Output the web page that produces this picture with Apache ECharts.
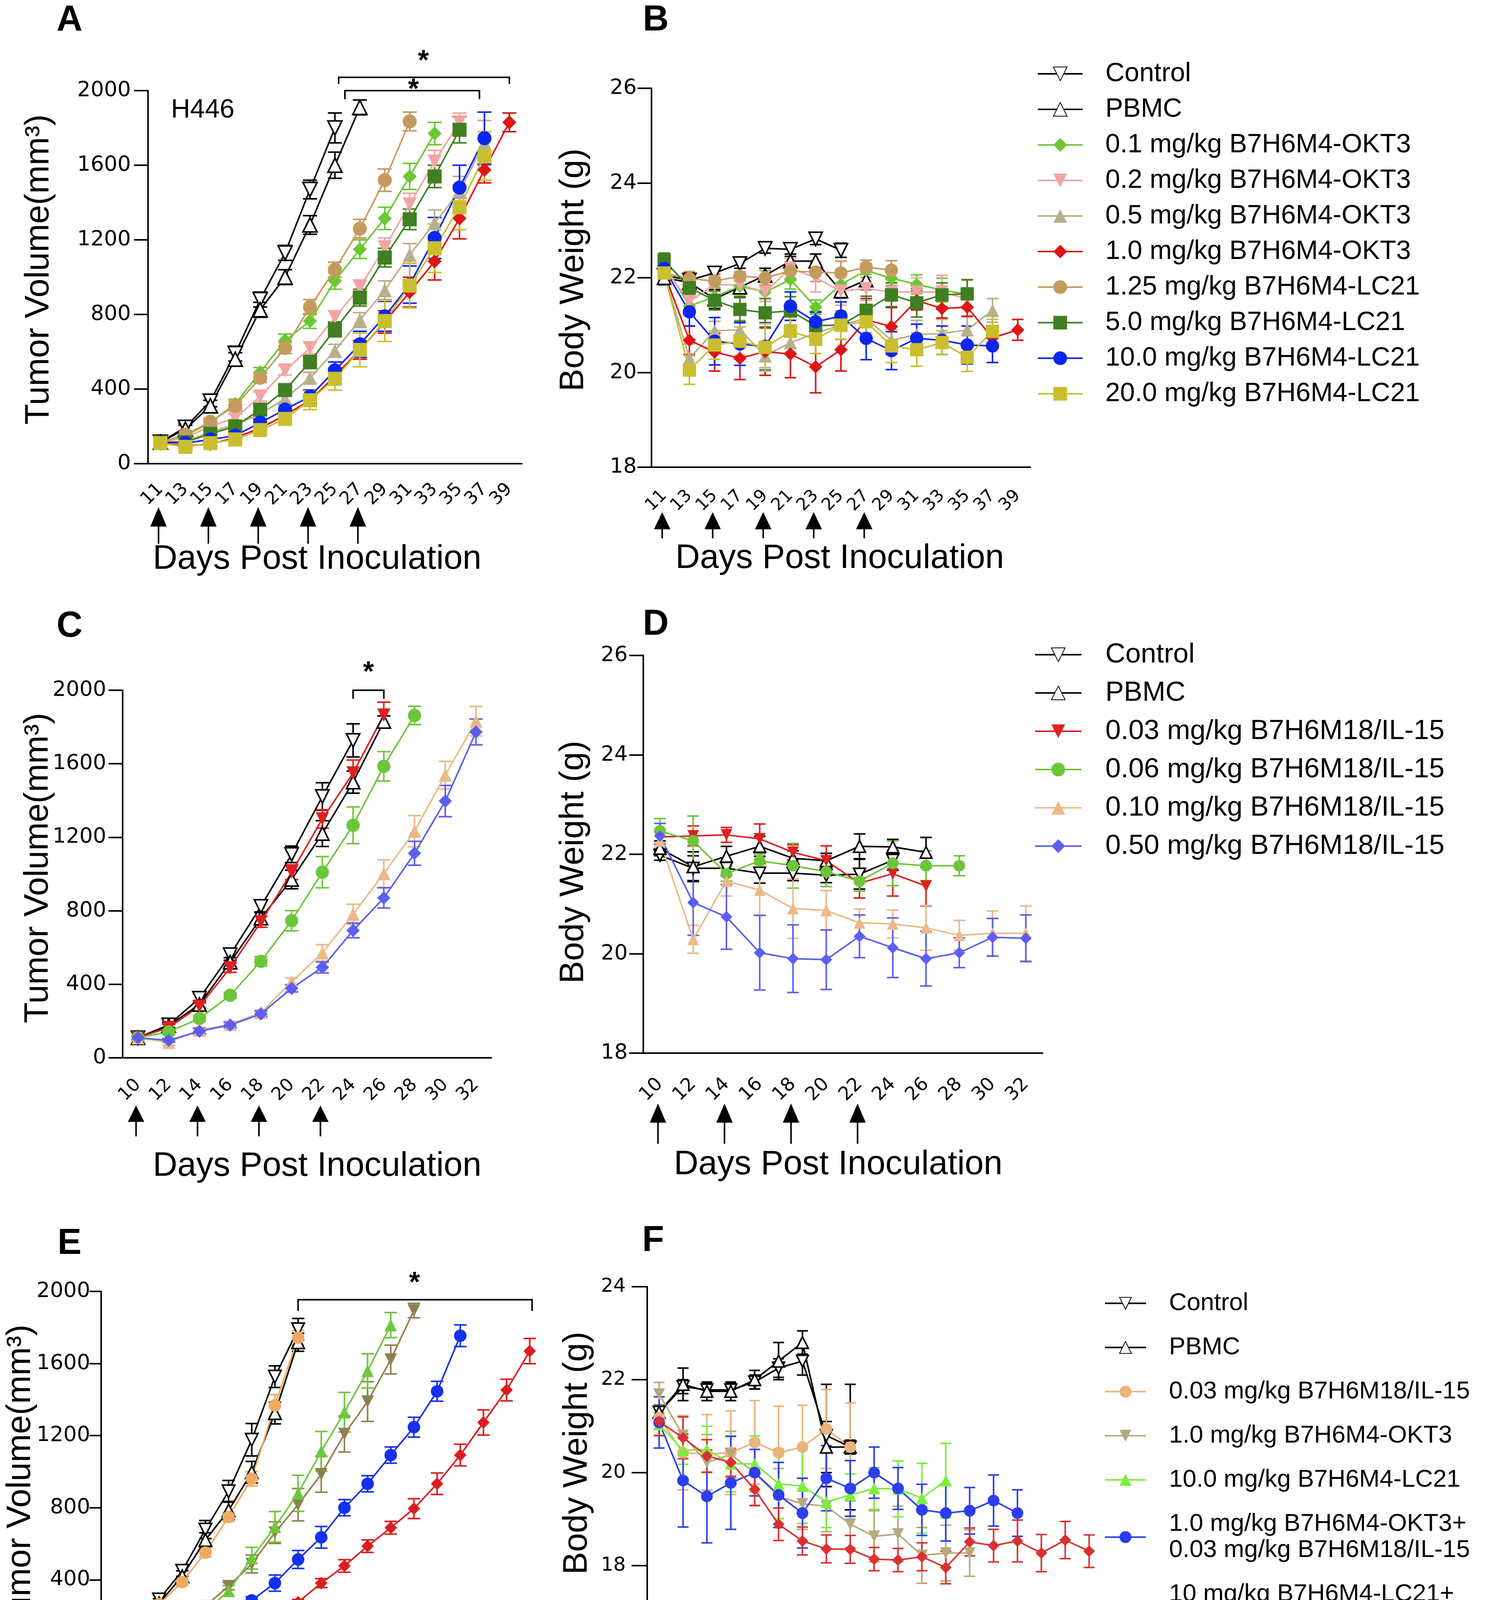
<!DOCTYPE html>
<html>
<head>
<meta charset="utf-8">
<title>Tumor volume and body weight</title>
<script src="https://cdn.jsdelivr.net/npm/echarts@6/dist/echarts.min.js"></script>
<style>
html, body { margin: 0; padding: 0; background: #fff; }
#chart { width: 3802px; height: 4584px; }
</style>
</head>
<body>
<div id="chart"></div>
<script>
// ---- x categories (days) and dosing days
var daysAB = [11, 13, 15, 17, 19, 21, 23, 25, 27, 29, 31, 33, 35, 37, 39];
var daysCD = [10, 12, 14, 16, 18, 20, 22, 24, 26, 28, 30, 32];
var daysEF = [8, 10, 12, 14, 16, 18, 20, 22, 24, 26, 28, 30, 32, 34, 36, 38, 40, 42, 44];
var doseAB = [11, 15, 19, 23, 27];
var doseCD = [10, 14, 18, 22];
var doseEF = [8, 12, 16, 20];

// ---- panel A: tumor volume (mm3), mean and SEM
var volA_control = [115, 195, 335, 590, 880, 1130, 1470, 1800];
var semA_control = [15, 20, 30, 40, 40, 40, 50, 80];
var volA_pbmc = [115, 185, 310, 560, 825, 1000, 1280, 1600, 1910];
var semA_pbmc = [15, 20, 30, 35, 40, 40, 50, 70, 40];
var volA_okt01 = [115, 150, 220, 320, 490, 660, 765, 980, 1150, 1315, 1540, 1770];
var semA_okt01 = [10, 15, 20, 25, 25, 35, 40, 45, 50, 60, 70, 60];
var volA_okt02 = [115, 140, 200, 245, 360, 500, 620, 785, 945, 1160, 1390, 1620, 1830];
var semA_okt02 = [10, 15, 20, 20, 25, 25, 30, 35, 40, 50, 60, 60, 50];
var volA_okt05 = [115, 120, 170, 210, 265, 350, 460, 605, 770, 930, 1120, 1290, 1460, 1720];
var semA_okt05 = [10, 15, 15, 20, 25, 30, 30, 35, 40, 50, 60, 70, 80, 120];
var volA_okt10 = [110, 95, 105, 140, 190, 260, 340, 470, 610, 760, 920, 1085, 1315, 1575, 1830];
var semA_okt10 = [10, 10, 15, 15, 20, 25, 30, 40, 50, 60, 80, 100, 110, 70, 50];
var volA_lc125 = [115, 155, 225, 310, 460, 620, 840, 1040, 1260, 1520, 1835];
var semA_lc125 = [10, 15, 20, 25, 25, 30, 40, 40, 50, 60, 50];
var volA_lc5 = [115, 115, 160, 200, 290, 395, 545, 720, 890, 1105, 1310, 1540, 1790];
var semA_lc5 = [10, 15, 20, 25, 30, 30, 35, 40, 45, 50, 55, 60, 70];
var volA_lc10 = [115, 110, 130, 150, 220, 290, 360, 500, 640, 790, 960, 1210, 1480, 1745];
var semA_lc10 = [10, 10, 15, 15, 20, 25, 35, 45, 70, 80, 100, 110, 120, 140];
var volA_lc20 = [110, 90, 110, 130, 180, 240, 340, 455, 610, 765, 955, 1155, 1375, 1650];
var semA_lc20 = [10, 10, 15, 15, 20, 30, 50, 60, 90, 110, 120, 130, 120, 130];

// ---- panel B: body weight (g)
var wB_control = [22.05, 21.95, 22.1, 22.3, 22.62, 22.6, 22.82, 22.58];
var semB_control = [0.1, 0.15, 0.1, 0.1, 0.1, 0.1, 0.12, 0.15];
var wB_pbmc = [22.0, 21.9, 21.55, 21.8, 22.05, 22.35, 22.35, 21.72, 21.95];
var semB_pbmc = [0.15, 0.2, 0.2, 0.2, 0.15, 0.1, 0.15, 0.15, 0.2];
var wB_okt01 = [22.3, 21.4, 21.6, 21.82, 21.7, 21.96, 21.38, 21.86, 22.15, 21.99, 21.86, 21.74, 21.65];
var semB_okt01 = [0.2, 0.2, 0.2, 0.2, 0.2, 0.2, 0.15, 0.2, 0.15, 0.15, 0.2, 0.25, 0.3];
var wB_okt02 = [22.2, 21.5, 21.85, 21.85, 21.7, 22.2, 22.0, 21.72, 21.77, 21.7, 21.7, 21.7, 21.55];
var semB_okt02 = [0.15, 0.15, 0.2, 0.2, 0.2, 0.2, 0.3, 0.3, 0.25, 0.2, 0.3, 0.35, 0.2];
var wB_okt05 = [22.1, 20.3, 20.88, 20.9, 20.35, 20.63, 20.83, 21.0, 21.14, 20.68, 20.8, 20.82, 20.9, 21.31];
var semB_okt05 = [0.1, 0.3, 0.2, 0.2, 0.25, 0.2, 0.2, 0.3, 0.3, 0.3, 0.3, 0.3, 0.3, 0.25];
var wB_okt10 = [22.1, 20.68, 20.43, 20.3, 20.44, 20.39, 20.12, 20.48, 21.11, 20.97, 21.52, 21.35, 21.38, 20.73, 20.9];
var semB_okt10 = [0.1, 0.3, 0.4, 0.45, 0.5, 0.5, 0.55, 0.45, 0.45, 0.4, 0.2, 0.2, 0.2, 0.1, 0.22];
var wB_lc125 = [22.1, 21.98, 21.93, 22.03, 22.0, 22.14, 22.12, 22.1, 22.22, 22.16];
var semB_lc125 = [0.1, 0.15, 0.15, 0.1, 0.15, 0.2, 0.2, 0.25, 0.15, 0.2];
var wB_lc5 = [22.37, 21.79, 21.52, 21.33, 21.26, 21.3, 20.99, 21.0, 21.31, 21.64, 21.47, 21.64, 21.66];
var semB_lc5 = [0.15, 0.15, 0.2, 0.25, 0.3, 0.3, 0.3, 0.3, 0.3, 0.25, 0.3, 0.25, 0.3];
var wB_lc10 = [22.2, 21.28, 20.66, 20.6, 20.55, 21.4, 21.07, 21.19, 20.72, 20.46, 20.72, 20.68, 20.58, 20.56];
var semB_lc10 = [0.15, 0.3, 0.5, 0.45, 0.5, 0.3, 0.2, 0.3, 0.45, 0.4, 0.3, 0.3, 0.4, 0.35];
var wB_lc20 = [22.1, 20.05, 20.58, 20.66, 20.53, 20.87, 20.7, 21.0, 21.07, 20.56, 20.48, 20.63, 20.32, 20.87];
var semB_lc20 = [0.15, 0.3, 0.3, 0.3, 0.5, 0.35, 0.3, 0.3, 0.35, 0.35, 0.35, 0.25, 0.3, 0.25];

// ---- panel C: tumor volume (mm3)
var vC_control = [109, 179, 324, 561, 824, 1107, 1422, 1727];
var semC_control = [10, 15, 25, 30, 30, 45, 75, 90];
var vC_pbmc = [109, 175, 290, 520, 760, 970, 1220, 1500, 1830];
var semC_pbmc = [10, 15, 20, 25, 30, 50, 70, 60, 30];
var vC_il003 = [109, 165, 280, 490, 740, 1010, 1300, 1550, 1865];
var semC_il003 = [10, 15, 20, 25, 30, 40, 50, 70, 70];
var vC_il006 = [109, 141, 214, 340, 525, 746, 1010, 1265, 1586, 1863];
var semC_il006 = [10, 15, 15, 15, 25, 55, 85, 100, 80, 50];
var vC_il010 = [109, 84, 151, 183, 246, 414, 571, 781, 1002, 1233, 1538, 1832];
var semC_il010 = [10, 15, 15, 15, 15, 20, 45, 55, 75, 85, 75, 80];
var vC_il050 = [109, 95, 145, 178, 239, 378, 492, 693, 870, 1113, 1397, 1773];
var semC_il050 = [10, 10, 15, 15, 15, 20, 30, 40, 55, 65, 85, 70];

// ---- panel D: body weight (g)
var wD_control = [21.98, 21.72, 21.72, 21.62, 21.62, 21.58, 21.6, 21.88];
var semD_control = [0.1, 0.25, 0.15, 0.2, 0.15, 0.15, 0.3, 0.2];
var wD_pbmc = [22.12, 21.75, 21.96, 22.16, 21.92, 21.87, 22.16, 22.15, 22.04];
var semD_pbmc = [0.15, 0.3, 0.2, 0.2, 0.15, 0.15, 0.25, 0.15, 0.3];
var wD_il003 = [22.35, 22.37, 22.39, 22.31, 22.04, 21.87, 21.42, 21.61, 21.36];
var semD_il003 = [0.15, 0.2, 0.15, 0.3, 0.15, 0.3, 0.3, 0.45, 0.4];
var wD_il006 = [22.47, 22.27, 21.61, 21.87, 21.77, 21.65, 21.46, 21.82, 21.77, 21.77];
var semD_il006 = [0.25, 0.5, 0.15, 0.15, 0.45, 0.3, 0.2, 0.45, 0.3, 0.2];
var wD_il010 = [22.27, 20.29, 21.46, 21.28, 20.91, 20.87, 20.62, 20.6, 20.52, 20.37, 20.41, 20.41];
var semD_il010 = [0.2, 0.28, 0.3, 0.5, 0.6, 0.4, 0.28, 0.28, 0.45, 0.3, 0.45, 0.55];
var wD_il050 = [22.37, 21.03, 20.74, 20.02, 19.9, 19.88, 20.35, 20.12, 19.9, 20.02, 20.33, 20.31];
var semD_il050 = [0.25, 0.66, 0.65, 0.75, 0.68, 0.6, 0.43, 0.6, 0.55, 0.3, 0.38, 0.47];

// ---- panel E: tumor volume (mm3)
var vE_control = [120, 180, 291, 450, 679, 891, 1177, 1527, 1790];
var semE_control = [15, 20, 25, 30, 50, 60, 90, 60, 60];
var vE_pbmc = [115, 175, 270, 420, 621, 785, 997, 1325, 1718];
var semE_pbmc = [15, 20, 25, 30, 40, 50, 60, 60, 50];
var vE_il003 = [115, 170, 265, 388, 551, 749, 961, 1368, 1743];
var semE_il003 = [15, 15, 20, 20, 25, 25, 40, 60, 40];
var vE_okt10 = [115, 100, 120, 170, 254, 365, 488, 662, 817, 986, 1209, 1389, 1622, 1894];
var semE_okt10 = [15, 10, 10, 15, 20, 20, 50, 60, 90, 100, 100, 110, 80, 40];
var vE_lc10 = [115, 100, 130, 150, 223, 339, 520, 694, 880, 1113, 1330, 1559, 1813];
var semE_lc10 = [15, 10, 10, 15, 20, 30, 60, 85, 100, 110, 110, 95, 70];
var vE_comboOkt = [115, 106, 117, 134, 176, 206, 286, 382, 513, 636, 800, 933, 1092, 1247, 1446, 1754];
var semE_comboOkt = [10, 10, 10, 15, 15, 15, 20, 45, 50, 60, 45, 45, 45, 55, 55, 60];
var vE_comboLc = [115, 106, 89, 89, 106, 138, 191, 216, 276, 382, 477, 587, 689, 795, 933, 1092, 1273, 1453, 1669];
var semE_comboLc = [10, 10, 10, 10, 10, 15, 15, 15, 15, 25, 35, 35, 35, 55, 60, 60, 70, 60, 70];

// ---- panel F: body weight (g)
var wF_control = [21.3, 21.85, 21.78, 21.78, 21.95, 22.25, 22.4, 20.8, 20.55];
var semF_control = [0.15, 0.15, 0.15, 0.15, 0.15, 0.2, 0.3, 1.1, 1.35];
var wF_pbmc = [21.3, 21.9, 21.75, 21.75, 22.0, 22.4, 22.8, 20.55, 20.55];
var semF_pbmc = [0.15, 0.35, 0.2, 0.2, 0.2, 0.4, 0.25, 0.55, 0.15];
var wF_il003 = [21.18, 20.43, 20.4, 20.43, 20.65, 20.43, 20.55, 20.94, 20.55];
var semF_il003 = [0.25, 0.8, 0.85, 0.9, 0.9, 1.0, 0.9, 0.85, 0.95];
var wF_okt10 = [21.69, 20.8, 20.22, 20.39, 20.0, 19.49, 19.33, 19.28, 18.89, 18.63, 18.68, 18.22, 18.27, 18.27];
var semF_okt10 = [0.25, 0.4, 0.6, 0.5, 0.7, 0.6, 0.55, 0.55, 0.5, 0.55, 0.6, 0.6, 0.6, 0.5];
var wF_lc10 = [21.04, 20.48, 20.5, 20.19, 20.19, 19.76, 19.71, 19.37, 19.52, 19.66, 19.65, 19.45, 19.83];
var semF_lc10 = [0.25, 0.3, 0.5, 0.6, 0.6, 0.75, 0.8, 0.55, 0.45, 0.45, 0.6, 0.75, 0.8];
var wF_comboOkt = [21.08, 19.83, 19.49, 19.78, 20.0, 19.52, 19.13, 19.88, 19.66, 20.0, 19.66, 19.2, 19.13, 19.18, 19.4, 19.13];
var semF_comboOkt = [0.55, 1.0, 1.0, 1.0, 0.5, 0.7, 0.75, 0.7, 0.6, 0.55, 0.45, 0.55, 0.6, 0.5, 0.55, 0.5];
var wF_comboLc = [21.1, 20.75, 20.36, 20.22, 19.64, 18.89, 18.53, 18.36, 18.35, 18.14, 18.12, 18.19, 17.96, 18.51, 18.43, 18.53, 18.27, 18.55, 18.31];
var semF_comboLc = [0.3, 0.45, 0.35, 0.3, 0.35, 0.35, 0.3, 0.3, 0.3, 0.25, 0.25, 0.3, 0.35, 0.3, 0.35, 0.45, 0.4, 0.4, 0.35];

// ---- group labels
var labAB = ['Control', 'PBMC', '0.1 mg/kg B7H6M4-OKT3', '0.2 mg/kg B7H6M4-OKT3', '0.5 mg/kg B7H6M4-OKT3',
  '1.0 mg/kg B7H6M4-OKT3', '1.25 mg/kg B7H6M4-LC21', '5.0 mg/kg B7H6M4-LC21', '10.0 mg/kg B7H6M4-LC21',
  '20.0 mg/kg B7H6M4-LC21'];
var labCD = ['Control', 'PBMC', '0.03 mg/kg B7H6M18/IL-15', '0.06 mg/kg B7H6M18/IL-15',
  '0.10 mg/kg B7H6M18/IL-15', '0.50 mg/kg B7H6M18/IL-15'];
var labEF = ['Control', 'PBMC', '0.03 mg/kg B7H6M18/IL-15', '1.0 mg/kg B7H6M4-OKT3', '10.0 mg/kg B7H6M4-LC21',
  '1.0 mg/kg B7H6M4-OKT3+\n0.03 mg/kg B7H6M18/IL-15', '10 mg/kg B7H6M4-LC21+\n0.03 mg/kg B7H6M18/IL-15'];

var FONT = "'Liberation Sans', Arial, Helvetica, sans-serif";
var TICKFONT = "'DejaVu Sans', 'Liberation Sans', sans-serif";

// marker styles, in label order
var styAB = [
  {c: '#000000', s: 'triangle', r: 180, open: true},
  {c: '#000000', s: 'triangle', r: 0, open: true},
  {c: '#6cc832', s: 'diamond'},
  {c: '#f2a4a4', s: 'triangle', r: 180},
  {c: '#b9af8d', s: 'triangle'},
  {c: '#e01414', s: 'diamond'},
  {c: '#c49b5f', s: 'circle'},
  {c: '#417f22', s: 'rect'},
  {c: '#0b26f2', s: 'circle'},
  {c: '#c9bf2e', s: 'rect'}
];
var styCD = [
  {c: '#000000', s: 'triangle', r: 180, open: true},
  {c: '#000000', s: 'triangle', r: 0, open: true},
  {c: '#de2020', s: 'triangle', r: 180},
  {c: '#6cc63a', s: 'circle'},
  {c: '#eab98a', s: 'triangle'},
  {c: '#5c5ef2', s: 'diamond'}
];
var styE = [
  {c: '#000000', s: 'triangle', r: 180, open: true},
  {c: '#000000', s: 'triangle', r: 0, open: true},
  {c: '#efaa62', s: 'circle'},
  {c: '#8f8050', s: 'triangle', r: 180},
  {c: '#6cc83c', s: 'triangle'},
  {c: '#1530f0', s: 'circle'},
  {c: '#dd1c1c', s: 'diamond'}
];
var styF = [
  {c: '#000000', s: 'triangle', r: 180, open: true},
  {c: '#000000', s: 'triangle', r: 0, open: true},
  {c: '#ebb27a', s: 'circle'},
  {c: '#b5aa7c', s: 'triangle', r: 180},
  {c: '#7cee3c', s: 'triangle'},
  {c: '#2b3ef0', s: 'circle'},
  {c: '#dc3030', s: 'diamond'}
];

// arrow: [offset below axis, total length, head height]
// ax: [x label font, x label margin, y label font, y label margin, y tick length, x tick length]
var panels = [
  {id: 'A', grid: {left: 379, top: 232, width: 957, height: 955}, days: daysAB, doses: doseAB, yMin: 0, yMax: 2000, yStep: 400,
    arrow: [111, 94, 50], ax: [46, 58, 54, 44, 36, 28], size: 36, cap: 36, labels: labAB, sty: styAB,
    vals: [volA_control, volA_pbmc, volA_okt01, volA_okt02, volA_okt05, volA_okt10, volA_lc125, volA_lc5, volA_lc10, volA_lc20],
    sems: [semA_control, semA_pbmc, semA_okt01, semA_okt02, semA_okt05, semA_okt10, semA_lc125, semA_lc5, semA_lc10, semA_lc20]},
  {id: 'B', grid: {left: 1668, top: 226, width: 970, height: 970}, days: daysAB, doses: doseAB, yMin: 18, yMax: 26, yStep: 2,
    arrow: [115, 67, 44], ax: [44, 66, 54, 38, 36, 30], size: 34, cap: 30, labels: labAB, sty: styAB,
    vals: [wB_control, wB_pbmc, wB_okt01, wB_okt02, wB_okt05, wB_okt10, wB_lc125, wB_lc5, wB_lc10, wB_lc20],
    sems: [semB_control, semB_pbmc, semB_okt01, semB_okt02, semB_okt05, semB_okt10, semB_lc125, semB_lc5, semB_lc10, semB_lc20]},
  {id: 'C', grid: {left: 314, top: 1767, width: 944, height: 941}, days: daysCD, doses: doseCD, yMin: 0, yMax: 2000, yStep: 400,
    arrow: [122, 79, 42], ax: [46, 62, 54, 42, 36, 28], size: 34, cap: 34, labels: labCD, sty: styCD,
    vals: [vC_control, vC_pbmc, vC_il003, vC_il006, vC_il010, vC_il050],
    sems: [semC_control, semC_pbmc, semC_il003, semC_il006, semC_il010, semC_il050]},
  {id: 'D', grid: {left: 1647, top: 1678, width: 1022, height: 1018}, days: daysCD, doses: doseCD, yMin: 18, yMax: 26, yStep: 2,
    arrow: [129, 103, 49], ax: [48, 72, 54, 40, 36, 30], size: 30, cap: 30, labels: labCD, sty: styCD,
    vals: [wD_control, wD_pbmc, wD_il003, wD_il006, wD_il010, wD_il050],
    sems: [semD_control, semD_pbmc, semD_il003, semD_il006, semD_il010, semD_il050]},
  {id: 'E', grid: {left: 259, top: 3306, width: 1127, height: 923}, days: daysEF, doses: doseEF, yMin: 0, yMax: 2000, yStep: 400,
    arrow: [127, 69, 42], ax: [40, 58, 54, 28, 30, 28], size: 32, cap: 32, labels: labEF, sty: styE,
    vals: [vE_control, vE_pbmc, vE_il003, vE_okt10, vE_lc10, vE_comboOkt, vE_comboLc],
    sems: [semE_control, semE_pbmc, semE_il003, semE_okt10, semE_lc10, semE_comboOkt, semE_comboLc]},
  {id: 'F', grid: {left: 1657, top: 3294, width: 1162, height: 952}, days: daysEF, doses: doseEF, yMin: 16, yMax: 24, yStep: 2,
    arrow: [126, 92, 48], ax: [40, 72, 50, 55, 40, 42], size: 30, cap: 28, labels: labEF, sty: styF,
    vals: [wF_control, wF_pbmc, wF_il003, wF_okt10, wF_lc10, wF_comboOkt, wF_comboLc],
    sems: [semF_control, semF_pbmc, semF_il003, semF_okt10, semF_lc10, semF_comboOkt, semF_comboLc]}
];

// error bar with caps
function errRender(cap, color) {
  return function (params, api) {
    var x = api.value(0), m = api.value(1), s = api.value(2);
    var hi = api.coord([x, m + s]), lo = api.coord([x, m - s]);
    function st() { return {stroke: color, lineWidth: 4, fill: null}; }
    return {type: 'group', children: [
      {type: 'line', shape: {x1: hi[0], y1: hi[1], x2: lo[0], y2: lo[1]}, style: st()},
      {type: 'line', shape: {x1: hi[0] - cap / 2, y1: hi[1], x2: hi[0] + cap / 2, y2: hi[1]}, style: st()},
      {type: 'line', shape: {x1: lo[0] - cap / 2, y1: lo[1], x2: lo[0] + cap / 2, y2: lo[1]}, style: st()}
    ]};
  };
}

// dosing arrows under the x axis
function arrowRender(off, len, hh) {
  return function (params, api) {
    var b = api.coord([api.value(0), api.value(1)]);
    var x = b[0] - 5, top = b[1] + off, hw = 21;
    return {type: 'group', children: [
      {type: 'polygon', shape: {points: [[x, top], [x - hw, top + hh], [x + hw, top + hh]]}, style: {fill: '#000'}},
      {type: 'line', shape: {x1: x, y1: top + hh - 2, x2: x, y2: top + len}, style: {stroke: '#000', lineWidth: 4}}
    ]};
  };
}

var series = [];
panels.forEach(function (p, pi) {
  p.labels.forEach(function (lab, k) {
    var st = p.sty[k];
    var name = p.id + '|' + lab;
    series.push({
      type: 'custom', name: 'err ' + name, xAxisIndex: pi, yAxisIndex: pi, silent: true, z: 2,
      data: p.vals[k].map(function (v, i) { return [String(p.days[i]), v, p.sems[k][i]]; }),
      encode: {x: 0, y: 1},
      renderItem: errRender(p.cap, st.c)
    });
    series.push({
      type: 'line', name: name, xAxisIndex: pi, yAxisIndex: pi, z: 2,
      data: p.vals[k].map(function (v, i) { return [String(p.days[i]), v]; }),
      symbol: st.s, symbolSize: p.size, symbolRotate: st.r || 0, showAllSymbol: true,
      lineStyle: {color: st.c, width: 4},
      itemStyle: st.open ? {color: '#fff', borderColor: st.c, borderWidth: 4} : {color: st.c, borderWidth: 0}
    });
  });
  series.push({
    type: 'custom', name: 'dose ' + p.id, xAxisIndex: pi, yAxisIndex: pi, silent: true, clip: false,
    data: p.doses.map(function (d) { return [String(d), p.yMin]; }),
    encode: {x: 0, y: 1},
    renderItem: arrowRender(p.arrow[0], p.arrow[1], p.arrow[2])
  });
});

function xPix(p, day) {
  return p.grid.left + ((day - p.days[0]) / 2 + 0.5) * p.grid.width / p.days.length;
}
function yPix(p, v) {
  return p.grid.top + (p.yMax - v) / (p.yMax - p.yMin) * p.grid.height;
}

// significance brackets: [panel, fromDay, toDay, line value, end value]
var brackets = [[0, 25.3, 39, 2071, 2036], [0, 25.8, 36.6, 2000, 1954], [2, 24, 26, 2000, 1953], [4, 24, 44.2, 1954, 1892]];
var stars = [[0, 32.1, 2188], [0, 31.3, 2036], [2, 25, 2128], [4, 34.05, 2078]];

var graphics = [];
function addText(x, y, text, size, weight, rot) {
  graphics.push({type: 'text', x: x, y: y, rotation: rot || 0, silent: true, z: 10,
    style: {text: text, fontSize: size, fontWeight: weight || 'normal', fontFamily: FONT, fill: '#000',
      align: 'center', verticalAlign: 'middle'}});
}
brackets.forEach(function (b) {
  var p = panels[b[0]];
  var x1 = xPix(p, b[1]), x2 = xPix(p, b[2]), yl = yPix(p, b[3]), ye = yPix(p, b[4]);
  graphics.push({type: 'polyline', silent: true, z: 10, shape: {points: [[x1, ye], [x1, yl], [x2, yl], [x2, ye]]},
    style: {stroke: '#000', lineWidth: 4, fill: null}});
});
stars.forEach(function (s) {
  var p = panels[s[0]];
  addText(xPix(p, s[1]), yPix(p, s[2]) + 16, '*', 72, 'bold');
});

// panel letters
addText(178, 53, 'A', 92, 'bold');
addText(1679, 53, 'B', 92, 'bold');
addText(178, 1605, 'C', 92, 'bold');
addText(1679, 1600, 'D', 92, 'bold');
addText(178, 3185, 'E', 92, 'bold');
addText(1672, 3177, 'F', 92, 'bold');
addText(519, 282, 'H446', 68);

// axis titles
var xTitle = 'Days Post Inoculation';
var volTitle = 'Tumor Volume(mm\u00b3)';
var bwTitle = 'Body Weight (g)';
addText(812, 1432, xTitle, 87);
addText(2150, 1430, xTitle, 87);
addText(812, 2986, xTitle, 87);
addText(2146, 2982, xTitle, 87);
addText(809, 4520, xTitle, 87);
addText(2072, 4525, xTitle, 87);
addText(100, 690, volTitle, 87, 'normal', Math.PI / 2);
addText(1469, 691, bwTitle, 87, 'normal', Math.PI / 2);
addText(98, 2222, volTitle, 87, 'normal', Math.PI / 2);
addText(1469, 2207, bwTitle, 87, 'normal', Math.PI / 2);
addText(53, 3788, volTitle, 87, 'normal', Math.PI / 2);
addText(1478, 3720, bwTitle, 87, 'normal', Math.PI / 2);

function stripKey(n) { return n.split('|')[1]; }
function legendFor(id, labels, left, top, iw, ih, gap, fs, lh, pad) {
  return {
    orient: 'vertical', left: left, top: top, padding: 0, selectedMode: false,
    data: labels.map(function (l) { return id + '|' + l; }),
    itemWidth: iw, itemHeight: ih, itemGap: gap, formatter: stripKey,
    lineStyle: {width: 4},
    textStyle: {fontSize: fs, lineHeight: lh, fontFamily: FONT, color: '#000', padding: [0, 0, 0, pad]}
  };
}

var option = {
  animation: false,
  backgroundColor: '#fff',
  grid: panels.map(function (p) {
    return {left: p.grid.left, top: p.grid.top, width: p.grid.width, height: p.grid.height,
      containLabel: false, outerBoundsMode: 'none'};
  }),
  xAxis: panels.map(function (p, i) {
    return {
      type: 'category', gridIndex: i, data: p.days.map(String), boundaryGap: true,
      axisLine: {onZero: false, lineStyle: {color: '#000', width: 4}},
      axisTick: {alignWithLabel: true, length: p.ax[5], lineStyle: {color: '#000', width: 4}},
      axisLabel: {rotate: 45, interval: 0, fontSize: p.ax[0], margin: p.ax[1], color: '#000', fontFamily: TICKFONT},
      splitLine: {show: false}
    };
  }),
  yAxis: panels.map(function (p, i) {
    return {
      type: 'value', gridIndex: i, min: p.yMin, max: p.yMax, interval: p.yStep,
      axisLine: {show: true, lineStyle: {color: '#000', width: 4}},
      axisTick: {show: true, length: p.ax[4], lineStyle: {color: '#000', width: 4}},
      axisLabel: {fontSize: p.ax[2], margin: p.ax[3], color: '#000', fontFamily: TICKFONT,
        formatter: function (v) { return String(v); }},
      splitLine: {show: false}
    };
  }),
  legend: [
    legendFor('B', labAB, 2655, 154, 115, 44, 21, 68, 70, 53),
    legendFor('D', labCD, 2648, 1640, 119, 44, 26, 71, 72, 56),
    legendFor('F', labEF, 2827, 3303, 105, 38, 46, 63, 67, 54)
  ],
  graphic: graphics,
  series: series
};

var chart = echarts.init(document.getElementById('chart'));
chart.setOption(option);
</script>
</body>
</html>
